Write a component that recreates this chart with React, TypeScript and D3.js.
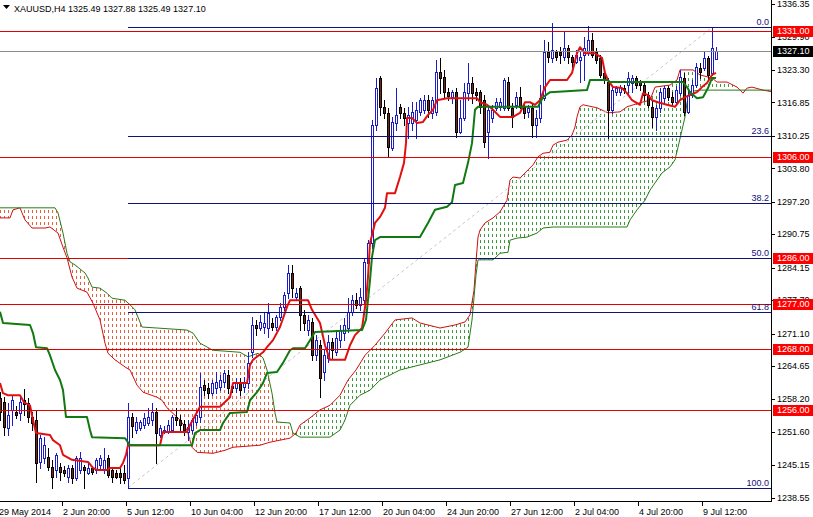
import React from 'react'
import * as d3 from 'd3'

const W = 813
const H = 517
const PLOT_R = 771
const PLOT_B = 501

// H4 bars: open, high, low, close
const bars: number[][] = [
  [1258.3, 1259.5, 1254.0, 1255.6], [1257.5, 1258.5, 1251.0, 1252.6], [1252.4, 1257.3, 1251.0, 1255.0], [1256.0, 1258.7, 1253.0, 1257.9],
  [1255.6, 1256.8, 1254.4, 1255.0], [1255.4, 1258.7, 1254.0, 1257.5], [1257.9, 1260.1, 1255.0, 1257.1], [1257.3, 1258.3, 1253.6, 1254.6],
  [1254.6, 1255.6, 1252.0, 1253.4], [1254.0, 1256.0, 1241.7, 1245.5], [1245.7, 1251.0, 1244.5, 1250.4], [1246.5, 1250.6, 1245.5, 1249.1],
  [1246.7, 1248.4, 1244.1, 1244.7], [1244.7, 1246.1, 1240.5, 1242.7], [1244.1, 1247.4, 1242.7, 1247.1], [1244.7, 1245.5, 1242.1, 1243.7],
  [1244.1, 1244.9, 1242.9, 1243.5], [1242.7, 1245.1, 1241.7, 1244.5], [1244.5, 1245.1, 1241.5, 1242.5], [1242.5, 1246.9, 1242.1, 1246.5],
  [1244.1, 1247.6, 1243.5, 1246.5], [1244.7, 1245.1, 1240.5, 1244.1], [1243.5, 1245.7, 1243.3, 1244.5], [1244.5, 1244.9, 1243.3, 1243.7],
  [1244.1, 1246.5, 1243.5, 1246.1], [1245.1, 1247.1, 1244.1, 1246.5], [1244.1, 1248.4, 1243.5, 1246.1], [1246.5, 1247.1, 1242.7, 1243.1],
  [1244.1, 1244.7, 1241.7, 1242.7], [1243.5, 1244.1, 1242.5, 1242.7], [1243.5, 1244.7, 1241.5, 1242.7], [1243.5, 1245.1, 1241.5, 1242.1],
  [1242.5, 1257.3, 1240.7, 1254.6], [1254.6, 1255.4, 1250.6, 1252.8], [1252.0, 1254.6, 1251.4, 1253.6], [1252.4, 1254.0, 1252.0, 1253.6],
  [1253.0, 1255.4, 1252.4, 1254.4], [1253.4, 1256.4, 1253.0, 1254.6], [1254.0, 1257.3, 1253.0, 1255.6], [1255.6, 1256.4, 1245.5, 1251.4],
  [1251.0, 1253.0, 1250.6, 1252.4], [1251.8, 1252.8, 1251.4, 1252.0], [1251.6, 1254.0, 1251.4, 1253.0], [1252.0, 1255.0, 1252.0, 1254.6],
  [1254.6, 1256.4, 1253.0, 1254.0], [1254.0, 1255.0, 1251.6, 1253.0], [1253.2, 1254.0, 1251.0, 1252.0], [1251.6, 1254.0, 1250.0, 1252.6],
  [1252.0, 1254.4, 1251.4, 1254.0], [1253.6, 1256.0, 1253.0, 1255.0], [1254.6, 1263.3, 1253.6, 1260.5], [1260.9, 1261.9, 1258.9, 1259.9],
  [1260.3, 1261.3, 1258.3, 1259.3], [1259.3, 1261.9, 1258.9, 1261.3], [1260.3, 1263.5, 1259.3, 1261.5], [1260.5, 1262.9, 1259.9, 1261.9],
  [1261.5, 1263.9, 1260.5, 1263.3], [1262.9, 1263.9, 1259.3, 1260.3], [1260.7, 1261.3, 1259.5, 1260.3], [1260.3, 1262.3, 1259.5, 1261.3],
  [1261.3, 1262.3, 1258.9, 1259.9], [1260.5, 1262.5, 1259.5, 1261.5], [1261.3, 1267.4, 1260.3, 1265.3], [1267.4, 1274.4, 1266.5, 1272.8],
  [1272.8, 1273.8, 1270.8, 1272.2], [1272.2, 1274.8, 1271.8, 1273.4], [1272.4, 1275.4, 1271.2, 1273.2], [1272.2, 1277.1, 1270.4, 1275.2],
  [1273.2, 1274.2, 1271.8, 1272.4], [1272.4, 1274.8, 1271.8, 1274.4], [1274.4, 1277.1, 1273.8, 1276.4], [1276.4, 1279.3, 1275.8, 1278.7],
  [1279.1, 1284.7, 1278.1, 1283.1], [1283.1, 1284.7, 1278.3, 1280.1], [1278.3, 1280.1, 1277.7, 1279.1], [1280.1, 1280.5, 1271.8, 1274.8],
  [1274.8, 1275.8, 1271.8, 1273.2], [1271.8, 1274.8, 1270.8, 1273.8], [1273.4, 1274.2, 1265.9, 1266.8], [1266.8, 1270.8, 1265.9, 1269.8],
  [1268.8, 1269.8, 1258.5, 1262.3], [1263.5, 1267.8, 1261.9, 1266.8], [1266.2, 1270.8, 1265.5, 1269.4], [1269.4, 1270.2, 1266.2, 1267.8],
  [1267.4, 1271.8, 1266.8, 1270.2], [1269.8, 1272.8, 1268.4, 1271.8], [1271.2, 1274.2, 1269.8, 1272.8], [1272.2, 1278.1, 1271.4, 1275.4],
  [1275.4, 1278.7, 1274.8, 1277.7], [1277.7, 1279.1, 1276.2, 1276.8], [1276.8, 1280.1, 1275.8, 1278.3], [1277.7, 1286.1, 1277.1, 1285.3],
  [1285.1, 1289.6, 1284.1, 1289.0], [1289.0, 1313.4, 1288.0, 1312.4], [1312.4, 1321.7, 1311.4, 1319.7], [1321.7, 1322.1, 1314.4, 1316.0],
  [1316.0, 1317.3, 1313.8, 1314.8], [1314.8, 1315.8, 1306.0, 1308.0], [1307.8, 1314.0, 1307.4, 1313.0], [1312.8, 1319.7, 1311.4, 1314.4],
  [1316.0, 1316.6, 1313.8, 1314.8], [1314.8, 1315.8, 1312.4, 1313.8], [1312.8, 1316.0, 1309.8, 1314.4], [1312.8, 1317.0, 1311.4, 1315.0],
  [1313.4, 1317.0, 1309.8, 1315.4], [1315.0, 1317.7, 1314.4, 1317.3], [1315.4, 1318.3, 1314.8, 1317.3], [1317.3, 1318.3, 1314.0, 1315.4],
  [1314.8, 1317.9, 1313.8, 1317.3], [1315.0, 1325.3, 1314.4, 1322.9], [1322.9, 1325.7, 1318.7, 1321.7], [1321.9, 1323.3, 1317.9, 1318.9],
  [1318.9, 1319.7, 1317.3, 1318.1], [1317.9, 1319.3, 1316.7, 1318.9], [1318.9, 1319.7, 1310.0, 1311.0], [1311.0, 1317.3, 1310.8, 1313.8],
  [1313.8, 1320.7, 1313.4, 1318.9], [1318.7, 1324.7, 1317.3, 1320.7], [1320.7, 1321.9, 1316.7, 1318.7], [1318.9, 1319.7, 1317.3, 1318.3],
  [1318.9, 1319.3, 1314.8, 1316.0], [1317.3, 1318.3, 1308.0, 1309.0], [1311.0, 1316.4, 1305.9, 1315.4], [1313.8, 1316.4, 1313.0, 1315.4],
  [1315.8, 1317.7, 1315.4, 1317.0], [1316.0, 1317.7, 1315.4, 1317.0], [1315.8, 1321.7, 1315.4, 1321.3], [1320.9, 1321.9, 1315.4, 1315.8],
  [1315.8, 1316.8, 1312.0, 1314.0], [1316.4, 1318.9, 1315.8, 1317.9], [1317.9, 1319.9, 1315.8, 1316.0], [1316.0, 1316.8, 1313.8, 1314.8],
  [1315.0, 1316.4, 1314.0, 1315.8], [1315.8, 1316.8, 1310.0, 1312.4], [1312.4, 1315.4, 1310.0, 1313.8], [1313.8, 1320.3, 1313.0, 1317.7],
  [1317.7, 1329.2, 1317.3, 1326.8], [1326.8, 1328.8, 1324.9, 1325.9], [1325.7, 1332.6, 1324.9, 1327.2], [1326.8, 1327.2, 1325.3, 1325.9],
  [1326.8, 1327.8, 1324.7, 1326.2], [1325.9, 1330.8, 1325.3, 1327.6], [1327.6, 1328.2, 1324.7, 1325.9], [1325.9, 1326.3, 1323.9, 1324.9],
  [1324.9, 1327.2, 1324.7, 1326.3], [1325.3, 1326.8, 1320.9, 1325.9], [1326.3, 1329.8, 1321.3, 1327.6], [1326.6, 1332.0, 1326.3, 1329.2],
  [1329.2, 1330.6, 1325.9, 1326.3], [1326.8, 1327.6, 1324.7, 1325.3], [1325.7, 1326.3, 1321.9, 1322.3], [1322.7, 1323.7, 1320.7, 1321.3],
  [1320.9, 1321.7, 1309.8, 1315.4], [1315.4, 1320.3, 1314.8, 1319.3], [1318.9, 1320.1, 1318.3, 1319.7], [1318.9, 1320.3, 1318.3, 1319.9],
  [1319.7, 1320.3, 1318.7, 1319.3], [1320.3, 1322.9, 1318.3, 1321.7], [1320.7, 1322.3, 1318.9, 1321.7], [1321.7, 1322.1, 1319.7, 1320.3],
  [1320.9, 1321.3, 1319.3, 1320.3], [1320.3, 1320.7, 1317.3, 1318.3], [1318.3, 1318.9, 1316.0, 1316.4], [1316.0, 1317.3, 1312.0, 1314.0],
  [1314.0, 1316.4, 1311.4, 1315.8], [1315.8, 1319.7, 1315.0, 1318.9], [1317.7, 1320.1, 1316.8, 1319.7], [1319.7, 1320.1, 1317.3, 1317.9],
  [1317.9, 1318.9, 1316.4, 1316.9], [1316.9, 1320.1, 1316.4, 1319.3], [1318.7, 1323.3, 1318.3, 1321.9], [1321.7, 1322.7, 1314.4, 1315.0],
  [1315.0, 1319.7, 1314.8, 1318.3], [1318.3, 1321.3, 1317.9, 1320.3], [1320.3, 1324.7, 1319.9, 1323.9], [1323.7, 1324.7, 1321.7, 1322.9],
  [1323.7, 1326.8, 1323.3, 1325.7], [1325.7, 1326.1, 1321.3, 1322.3], [1322.7, 1331.7, 1322.3, 1327.6], [1325.49, 1327.88, 1325.49, 1327.1],
]

// ichimoku lines as [bar, price] vertices
const tenkanPts = [
  [0, 1261.3], [0.75, 1259.3], [2, 1258.9], [5, 1258.9], [6, 1257.5], [7.5, 1256.9], [8.25, 1254.0], [9, 1251.4], [12.5, 1251.0],
  [13.25, 1250.0], [15, 1249.0], [15.75, 1247.1], [18, 1246.1], [22, 1245.7], [23.25, 1244.5], [24.25, 1244.1], [26.75, 1244.1],
  [27.5, 1244.5], [30, 1244.5], [30.75, 1245.5], [31.5, 1247.1], [32, 1249.0], [40, 1249.0], [40.75, 1251.6], [46.75, 1251.6],
  [47.5, 1253.0], [50, 1256.6], [55, 1256.6], [57.5, 1258.5], [58.25, 1261.3], [61.75, 1261.3], [62.5, 1264.9], [63.25, 1265.9],
  [65.75, 1267.4], [66.75, 1268.4], [68.25, 1269.8], [70, 1272.4], [71.75, 1276.4], [72.5, 1277.7], [77, 1277.7], [78, 1275.8],
  [80, 1273.2], [81.25, 1268.8], [82.5, 1265.9], [86.25, 1265.9], [87.5, 1268.8], [88.75, 1270.8], [90.5, 1272.2], [91.5, 1277.7],
  [92, 1282.3], [92.5, 1289.0], [93.75, 1293.0], [95, 1294.2], [96.25, 1296.0], [96.75, 1298.9], [98.75, 1298.9], [100, 1302.1],
  [101, 1304.9], [101.5, 1308.8], [101.75, 1313.8], [103, 1313.8], [104.25, 1312.8], [105.75, 1313.0], [107, 1314.4], [108.25, 1315.4],
  [109.25, 1317.3], [111.75, 1317.7], [119.25, 1317.7], [120, 1316.9], [121.75, 1316.4], [123.25, 1315.4], [125, 1314.0], [128.25, 1314.0],
  [130, 1314.8], [131.25, 1316.9], [132.5, 1316.9], [133.75, 1316.4], [135, 1317.3], [136.25, 1319.9], [137.5, 1321.3], [141.75, 1321.3],
  [143, 1322.7], [144.25, 1326.6], [145, 1327.8], [146.25, 1326.6], [148.75, 1326.6], [150.5, 1325.7], [151.25, 1322.7], [152, 1321.3],
  [153.25, 1319.9], [155.5, 1319.7], [156.75, 1318.7], [158, 1317.3], [160, 1316.4], [160.75, 1318.7], [162, 1318.3], [163, 1317.3],
  [164.5, 1316.9], [166.75, 1316.4], [168.75, 1316.0], [170, 1317.3], [171.25, 1317.9], [172.5, 1318.3], [174.25, 1318.9], [175.5, 1319.9],
  [176.75, 1320.7], [178, 1322.3], [179, 1322.7],
]

const kijunPts = [
  [0, 1275.4], [0.75, 1273.2], [7.5, 1272.8], [8.25, 1271.2], [9, 1268.4], [11.75, 1268.2], [12.5, 1266.8], [13.75, 1263.9],
  [15, 1261.9], [15.75, 1259.9], [16.5, 1254.6], [21.75, 1254.6], [22.5, 1252.0], [23, 1250.6], [31.25, 1250.4], [32.5, 1249.0],
  [48, 1249.0], [48.75, 1251.4], [50, 1252.0], [55, 1252.0], [55.75, 1253.4], [57.5, 1255.4], [61.75, 1255.6], [62.5, 1257.9],
  [64.25, 1259.5], [65.75, 1261.3], [66.75, 1263.3], [69.25, 1263.5], [70.75, 1265.3], [72.5, 1267.8], [73.25, 1268.2], [76.25, 1268.2],
  [77.5, 1269.8], [78.75, 1271.4], [90.5, 1271.8], [91.5, 1273.8], [92.5, 1281.7], [93, 1286.3], [93.75, 1289.6], [95, 1290.2],
  [105, 1290.2], [107, 1293.0], [108.75, 1295.6], [111.75, 1296.2], [113, 1297.1], [113.75, 1300.5], [115.75, 1300.9], [117, 1304.9],
  [118, 1308.8], [118.75, 1315.4], [119.5, 1316.0], [134.5, 1316.0], [135.75, 1317.9], [137.5, 1318.9], [146.75, 1319.3], [147.5, 1321.3],
  [151.75, 1321.3], [152.5, 1320.9], [170.75, 1320.9], [171.75, 1319.9], [172.5, 1318.9], [174.25, 1317.7], [175.75, 1317.9], [177, 1319.7],
  [178, 1321.7], [179, 1321.7],
]

const spanAPts = [
  [0, 1294.0], [2.5, 1294.0], [3.25, 1295.6], [5, 1296.0], [5.5, 1295.0], [6.25, 1293.6], [8, 1292.0], [11.25, 1292.0], [12.5, 1292.2],
  [14.5, 1291.0], [15.75, 1288.2], [16.75, 1286.1], [18, 1282.3], [19.25, 1280.1], [21.75, 1279.3], [23.25, 1277.1], [25, 1273.8],
  [26.25, 1269.2], [27, 1267.2], [28.75, 1265.9], [31.25, 1264.5], [32.5, 1263.9], [34.25, 1260.9], [35.75, 1259.5], [39.25, 1258.5],
  [40.5, 1257.9], [41.75, 1256.4], [45, 1254.0], [46.75, 1252.0], [48, 1248.6], [49.25, 1247.6], [53.25, 1247.4], [56.25, 1248.0],
  [58.25, 1248.6], [65, 1249.0], [67.5, 1249.6], [70, 1250.0], [72.5, 1250.4], [74, 1251.4], [75, 1253.0], [77.5, 1254.4], [80, 1256.0],
  [82.5, 1256.9], [85, 1258.9], [87, 1261.9], [89, 1263.9], [91.25, 1266.8], [93.75, 1268.8], [96.25, 1271.2], [98.75, 1273.8],
  [103, 1274.2], [105, 1273.2], [110, 1272.2], [113.75, 1272.8], [116.25, 1273.4], [117.5, 1274.8], [118.5, 1279.7], [119, 1285.3],
  [119.5, 1290.2], [120, 1291.6], [121.25, 1293.0], [123.25, 1294.0], [125, 1295.2], [126.75, 1297.5], [127.5, 1301.5], [128.25, 1302.1],
  [130, 1301.9], [132, 1303.5], [133.25, 1304.5], [134.5, 1306.1], [135.75, 1306.8], [137.5, 1307.0], [138.25, 1308.4], [139.5, 1309.0],
  [141.75, 1309.4], [143, 1310.4], [143.75, 1312.0], [144.25, 1314.0], [145, 1316.0], [145.75, 1316.4], [149.25, 1315.8], [152, 1314.8],
  [155, 1315.0], [156.75, 1316.0], [160, 1316.8], [162.5, 1317.3], [163.75, 1319.9], [167.5, 1320.3], [169.25, 1321.3], [170, 1323.3],
  [173.25, 1323.3], [175, 1322.3], [178, 1321.7], [179.25, 1320.9], [181.75, 1320.9], [184.25, 1319.9], [185.75, 1318.7], [186.75, 1319.7],
  [188, 1319.9], [190.75, 1319.3], [193.5, 1318.9],
]

const spanBPts = [
  [0, 1296.0], [13.75, 1296.0], [14.5, 1295.0], [15.75, 1291.0], [16.75, 1287.0], [17.5, 1285.3], [18.75, 1284.7], [21.25, 1283.1],
  [22, 1282.1], [23, 1280.3], [25, 1280.1], [26.75, 1279.1], [28, 1278.1], [31.25, 1277.7], [32.5, 1276.8], [33.75, 1275.8],
  [35.5, 1272.4], [39.25, 1272.2], [46.75, 1271.8], [48.25, 1271.2], [50, 1269.2], [53.25, 1267.8], [60, 1267.4], [62, 1266.5],
  [64.5, 1267.2], [65.75, 1266.3], [66.75, 1263.9], [68, 1259.3], [68.75, 1255.4], [69.25, 1253.6], [72.5, 1253.4], [73.25, 1251.4],
  [75, 1250.6], [82.5, 1250.6], [85, 1252.0], [86.25, 1254.0], [87.5, 1256.9], [90, 1258.9], [92.5, 1259.9], [95, 1261.9],
  [100, 1263.9], [105, 1264.9], [110, 1265.9], [115, 1267.4], [117, 1268.4], [118, 1273.8], [119, 1282.7], [119.5, 1285.7],
  [123.25, 1285.7], [125, 1287.0], [127, 1287.2], [127.5, 1289.6], [129.25, 1290.0], [131.75, 1290.2], [134.25, 1291.0], [135.75, 1292.0],
  [138.25, 1292.2], [156.75, 1292.2], [157.5, 1293.6], [159.25, 1295.6], [161.25, 1297.5], [162.5, 1299.5], [164.25, 1301.5], [165.5, 1302.9],
  [167.5, 1304.1], [168.75, 1305.5], [169.5, 1308.0], [170.5, 1311.4], [171.25, 1314.0], [171.75, 1316.8], [172.5, 1319.0], [175, 1319.3],
  [193.5, 1319.3],
]

const priceTicks = [1336.35, 1329.9, 1323.3, 1316.85, 1310.25, 1303.8, 1297.2, 1290.75, 1284.15, 1277.7, 1271.1, 1264.65, 1258.2, 1251.6, 1245.15, 1238.55]
const timeBars = [0, 16, 32, 48, 64, 80, 96, 112, 128, 144, 160, 176]
const timeLabels = ['29 May 2014', '2 Jun 20:00', '5 Jun 12:00', '10 Jun 04:00', '12 Jun 20:00', '17 Jun 12:00', '20 Jun 04:00', '24 Jun 20:00', '27 Jun 12:00', '2 Jul 04:00', '4 Jul 20:00', '9 Jul 12:00']
const levelPrices = [1331, 1306, 1286, 1277, 1268, 1256]
const fibRatios = [0, 23.6, 38.2, 50, 61.8, 100]
const fibLow = 1240.6
const fibHigh = 1331.7
const fibStartBar = 32
const fibEndBar = 178
const bidPrice = 1327.1
const headline = 'XAUUSD,H4  1325.49 1327.88 1325.49 1327.10'

const FONT = "Tahoma, 'Liberation Sans', Arial, sans-serif"
const BLUE = '#1c1cc8'
const BEAR = '#7a2214'
const LEVEL_RED = '#e00000'
const FIB_BLUE = '#10107a'

export default function App() {
  const x = d3.scaleLinear().domain([0, 192.75]).range([0, PLOT_R])
  const y = d3.scaleLinear().domain([1238.55, 1336.35]).range([498, 4])
  const sy = (p: number) => Math.round(y(p)) + 0.5

  const line = d3.line<number[]>().x((d) => x(d[0])).y((d) => y(d[1]))
  const areaAbove = d3.area<number[]>().x((d) => x(d[0])).y0(0).y1((d) => y(d[1]))
  const areaBelow = d3.area<number[]>().x((d) => x(d[0])).y0((d) => y(d[1])).y1(PLOT_B)

  const fibPrice = (r: number) => fibHigh - (r / 100) * (fibHigh - fibLow)

  return (
    <svg width={W} height={H} style={{ position: 'absolute', left: 0, top: 0, background: '#fff' }} fontFamily={FONT}>
      <defs>
        <clipPath id="plot"><rect x={0} y={0} width={PLOT_R} height={PLOT_B} /></clipPath>
        <clipPath id="aboveA"><path d={areaAbove(spanAPts) || ''} /></clipPath>
        <clipPath id="belowA"><path d={areaBelow(spanAPts) || ''} /></clipPath>
        <pattern id="hatchRed" width={4} height={6} patternUnits="userSpaceOnUse">
          <rect x={0} y={0} width={1} height={3} fill="#e4603e" />
        </pattern>
        <pattern id="hatchGreen" width={4} height={6} patternUnits="userSpaceOnUse">
          <rect x={0} y={0} width={1} height={3} fill="#3c9c3c" />
        </pattern>
      </defs>
      <rect width={W} height={H} fill="#fff" />

      <g clipPath="url(#plot)">
        {/* kumo */}
        <path d={areaBelow(spanBPts) || ''} fill="url(#hatchRed)" clipPath="url(#aboveA)" />
        <path d={areaAbove(spanBPts) || ''} fill="url(#hatchGreen)" clipPath="url(#belowA)" />
        <path d={line(spanAPts) || ''} fill="none" stroke="#d01010" strokeWidth={1} />
        <path d={line(spanBPts) || ''} fill="none" stroke="#2a7a1a" strokeWidth={1} />

        {/* fib trend line */}
        <line x1={x(fibStartBar)} y1={y(fibLow)} x2={x(fibEndBar)} y2={y(fibHigh)} stroke="#c8c8c8" strokeDasharray="3,3" />

        {/* candles */}
        <g shapeRendering="crispEdges">
          {bars.map(([o, h, l, c], i) => {
            const cx = Math.round(x(i))
            const up = c >= o
            const col = up ? BLUE : '#000'
            const top = Math.round(y(Math.max(o, c)))
            const bot = Math.round(y(Math.min(o, c)))
            return (
              <g key={i}>
                <line x1={cx + 0.5} x2={cx + 0.5} y1={Math.round(y(h))} y2={Math.round(y(l)) + 1} stroke={col} />
                <rect x={cx - 0.5} y={top + 0.5} width={2} height={Math.max(bot - top, 1)} fill={up ? '#fff' : BEAR} stroke={col} />
              </g>
            )
          })}
        </g>

        <path d={line(tenkanPts) || ''} fill="none" stroke="#e01010" strokeWidth={2} strokeLinejoin="round" />
        <path d={line(kijunPts) || ''} fill="none" stroke="#107a10" strokeWidth={2} strokeLinejoin="round" />

        {/* horizontal levels */}
        <g shapeRendering="crispEdges">
          <line x1={0} x2={PLOT_R} y1={sy(bidPrice)} y2={sy(bidPrice)} stroke="#8c8c8c" />
          {levelPrices.map((p) => (
            <line key={p} x1={0} x2={PLOT_R} y1={sy(p)} y2={sy(p)} stroke={LEVEL_RED} />
          ))}
          {fibRatios.map((r) => (
            <line key={r} x1={x(fibStartBar)} x2={PLOT_R} y1={sy(fibPrice(r))} y2={sy(fibPrice(r))} stroke={FIB_BLUE} />
          ))}
        </g>
        {fibRatios.map((r) => (
          <text key={r} x={769} y={Math.round(y(fibPrice(r))) - 2} textAnchor="end" fontSize={9} fill={FIB_BLUE}>
            {r.toFixed(1)}
          </text>
        ))}
      </g>

      {/* frame */}
      <g shapeRendering="crispEdges" stroke="#000">
        <line x1={PLOT_R + 0.5} x2={PLOT_R + 0.5} y1={0} y2={PLOT_B + 1} />
        <line x1={0} x2={PLOT_R + 1} y1={PLOT_B + 0.5} y2={PLOT_B + 0.5} />
      </g>

      {/* price axis */}
      {priceTicks.map((p) => (
        <g key={p}>
          <line x1={PLOT_R} x2={PLOT_R + 4} y1={sy(p)} y2={sy(p)} stroke="#000" shapeRendering="crispEdges" />
          <text x={777} y={y(p)} dy="0.35em" fontSize={9} fill="#000">{p.toFixed(2)}</text>
        </g>
      ))}
      {levelPrices.map((p) => (
        <g key={p}>
          <rect x={773} y={Math.round(y(p)) - 5} width={40} height={11} fill="#ff0000" />
          <text x={777} y={y(p)} dy="0.35em" fontSize={9} fill="#fff">{p.toFixed(2)}</text>
        </g>
      ))}
      <rect x={773} y={Math.round(y(bidPrice)) - 5} width={40} height={11} fill="#000" />
      <text x={777} y={y(bidPrice)} dy="0.35em" fontSize={9} fill="#fff">{bidPrice.toFixed(2)}</text>

      {/* time axis */}
      {timeBars.map((b, i) => (
        <g key={b}>
          <line x1={x(b) - 1.5} x2={x(b) - 1.5} y1={PLOT_B} y2={PLOT_B + 5} stroke="#000" shapeRendering="crispEdges" />
          <text x={x(b) - 1} y={515} fontSize={9} fill="#000">{timeLabels[i]}</text>
        </g>
      ))}

      {/* header */}
      <polygon points="3,5 10,5 6.5,9" fill="#000" />
      <text x={14} y={12} fontSize={9} fill="#000">{headline}</text>
    </svg>
  )
}
